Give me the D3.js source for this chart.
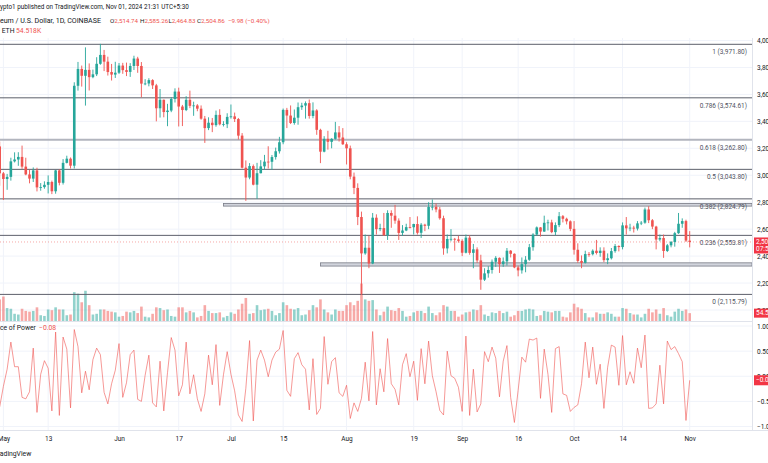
<!DOCTYPE html>
<html><head><meta charset="utf-8">
<script src="https://cdn.jsdelivr.net/npm/d3@7"></script>
<style>html,body{margin:0;padding:0;background:#fff;overflow:hidden}svg{display:block}</style>
</head><body>
<svg id="c" width="768" height="463"></svg>
<script>
// ---- data (daily ETH/USD candles, Apr 30 – Nov 01 2024) ----
const startDate = "2024-04-30";
const open = [3214,
 3014,2972,2988,3103,3117,3136,3064,3006,2975,3036, 2910,2912,2929,2950,2881,3036,2944,3092,3123,3071, 3664,3789,3738,3782,3728,3749,3827,3893,3843,3766,3747,
 3761,3814,3780,3767,3811,3866,3811,3680,3681,3706, 3667,3497,3560,3469,3480,3566,3621,3510,3484,3560, 3515,3518,3494,3420,3350,3390,3372,3448,3378,3379,
 3433,3437,3417,3294,3056,2983,3068,2930,3015,3066, 3101,3100,3135,3178,3245,3485,3443,3388,3427,3505, 3517,3535,3440,3481,3337,3175,3270,3248,3270,3318, 3280,
 3230,3200,2990,2906,2690,2420,2462,2345,2685,2600, 2608,2555,2720,2700,2663,2572,2590,2615,2614,2638, 2573,2633,2625,2765,2766,2746,2681,2457,2527,2528, 2524,
 2513,2425,2537,2424,2450,2368,2225,2272,2297,2358, 2387,2340,2361,2440,2417,2316,2294,2340,2373,2466, 2560,2613,2582,2647,2650,2578,2630,2696,2677,2658,
 2602,2447,2364,2350,2415,2414,2440,2423,2440,2370, 2384,2437,2475,2467,2628,2606,2611,2604,2643,2648, 2746,2666,2619,2523,2534,2438,2480,2505,2570,2640, 2660,
 2514.74];
const high = [3250,
 3024,3010,3130,3170,3171,3220,3130,3040,3058,3056, 2942,2955,2999,2960,3040,3043,3120,3145,3132,3690, 3841,3814,3949,3830,3784,3876,3975,3930,3880,3826,3842,
 3833,3834,3836,3832,3887,3879,3840,3713,3720,3713, 3678,3640,3562,3530,3580,3645,3650,3522,3587,3628, 3546,3528,3518,3440,3430,3425,3480,3490,3401,3460,
 3525,3465,3425,3313,3110,3090,3080,3092,3112,3151, 3215,3150,3205,3285,3495,3500,3518,3488,3540,3538, 3548,3562,3541,3490,3345,3290,3330,3275,3396,3365, 3350,
 3245,3220,3020,2940,2730,2560,2550,2720,2710,2640, 2720,2740,2740,2780,2680,2630,2640,2690,2640,2695, 2645,2640,2800,2820,2790,2765,2700,2560,2600,2535, 2550,
 2525,2560,2555,2490,2465,2410,2310,2325,2375,2400, 2390,2390,2460,2445,2420,2330,2390,2400,2490,2570, 2620,2615,2700,2670,2670,2650,2727,2705,2685,2665,
 2660,2495,2405,2440,2430,2450,2520,2465,2465,2420, 2460,2490,2480,2650,2690,2640,2625,2660,2660,2760, 2770,2675,2625,2560,2560,2490,2512,2580,2720,2680, 2670,
 2585.26];
const low = [2922,
 2817,2892,2960,3095,3070,3048,3000,2940,2950,2880, 2885,2900,2865,2860,2863,2925,2931,3088,3050,3050, 3628,3658,3517,3629,3720,3736,3820,3773,3740,3703,3722,
 3752,3753,3736,3730,3781,3760,3578,3668,3660,3640, 3400,3428,3430,3364,3468,3540,3362,3365,3476,3498, 3441,3475,3412,3240,3335,3320,3360,3370,3362,3350,
 3420,3395,3265,3050,2810,2970,2925,2825,3014,3041, 3050,3040,3116,3161,3230,3350,3380,3375,3375,3485, 3420,3420,3423,3300,3090,3170,3190,3200,3265,3250, 3225,
 3080,2970,2860,2630,2111,2410,2310,2340,2560,2585, 2550,2520,2610,2640,2520,2550,2585,2605,2560,2560, 2535,2585,2600,2740,2725,2670,2410,2420,2510,2440, 2500,
 2400,2420,2410,2310,2350,2150,2215,2240,2270,2320, 2275,2320,2330,2390,2310,2250,2270,2280,2365,2440, 2550,2545,2580,2590,2570,2555,2615,2650,2635,2585,
 2411,2350,2310,2345,2395,2405,2412,2395,2355,2340, 2375,2425,2435,2450,2560,2585,2575,2590,2630,2640, 2645,2600,2450,2510,2387,2430,2465,2470,2565,2610, 2505,
 2464.83];
const close = [3014,
 2972,2988,3103,3117,3136,3064,3006,2975,3036,2910, 2912,2929,2950,2881,3036,2944,3092,3123,3071,3664, 3789,3738,3782,3728,3749,3827,3893,3843,3766,3747,3761,
 3814,3780,3767,3811,3866,3811,3680,3681,3706,3667, 3497,3560,3469,3480,3566,3621,3510,3484,3560,3515, 3518,3494,3420,3350,3390,3372,3448,3378,3379,3433,
 3437,3417,3294,3056,2983,3068,2930,3015,3066,3101, 3100,3135,3178,3245,3485,3443,3388,3427,3505,3517, 3535,3440,3481,3337,3175,3270,3248,3270,3318,3280, 3230,
 3200,2990,2906,2690,2420,2462,2345,2685,2600,2608, 2555,2720,2700,2663,2572,2590,2615,2614,2638,2573, 2633,2625,2765,2766,2746,2681,2457,2527,2528,2524, 2513,
 2425,2537,2424,2450,2368,2225,2272,2297,2358,2387, 2340,2361,2440,2417,2316,2294,2340,2373,2466,2560, 2613,2582,2647,2650,2578,2630,2696,2677,2658,2602,
 2447,2364,2350,2415,2414,2440,2423,2440,2370,2384, 2437,2475,2467,2628,2606,2611,2604,2643,2648,2746, 2666,2619,2523,2534,2438,2480,2505,2570,2640,2660, 2515,
 2504.86];
// volume, thousands of ETH
const volume = [150,
 170,90,85,50,45,85,70,65,70,95, 40,35,80,75,95,80,80,40,45,200, 190,130,210,110,45,50,80,80,70,65, 60,
 30,35,65,60,70,55,100,30,25,50, 95,90,75,80,35,30,95,95,60,70, 60,25,35,110,70,55,55,60,25,35,
 60,50,80,120,160,50,55,110,75,80, 85,70,40,55,130,110,85,80,90,40, 45,75,110,95,150,80,60,45,80,70, 70,
 110,130,110,140,260,150,140,145,80,40, 65,100,75,70,90,70,30,35,60,70, 70,55,100,55,40,60,110,100,70,70, 30,
 45,60,65,80,75,110,45,35,60,55, 70,55,65,30,40,70,70,80,85,80, 35,40,70,65,60,70,70,30,25,60,
 120,95,85,55,25,25,60,50,50,60, 50,30,30,90,85,55,45,45,25,50, 85,60,80,50,90,40,30,65,85,70, 80,
 54.518];
// Balance of Power indicator values
const bop = [-0.61,
 -0.20,0.14,0.68,0.19,0.19,-0.42,-0.45,-0.31,0.56,-0.72, 0.04,0.31,0.16,-0.69,0.88,-0.78,0.78,0.54,-0.63,0.93, 0.59,-0.33,0.10,-0.27,0.33,0.56,0.43,-0.32,-0.55,-0.15,0.12,
 0.65,-0.42,-0.13,0.43,0.52,-0.46,-0.50,0.02,0.42,-0.53, -0.61,0.30,-0.69,0.07,0.77,0.52,-0.39,-0.17,0.68,-0.35, 0.03,-0.45,-0.70,-0.35,0.42,-0.17,0.63,-0.58,0.03,0.49,
 0.04,-0.29,-0.77,-0.90,-0.24,0.71,-0.89,0.32,0.52,0.32, -0.01,0.32,0.48,0.54,0.91,-0.28,-0.40,0.35,0.47,0.23, 0.14,-0.67,0.35,-0.76,-0.64,0.79,-0.16,0.29,0.37,-0.33, -0.40,
 -0.18,-0.84,-0.53,-0.70,-0.44,0.28,-0.49,0.89,-0.57,0.15, -0.31,0.75,-0.15,-0.26,-0.57,0.23,0.45,-0.01,0.30,-0.48, 0.55,-0.15,0.70,0.01,-0.31,-0.68,-0.77,0.50,0.01,-0.04, -0.22,
 -0.70,0.80,-0.78,0.14,-0.71,-0.55,0.49,0.29,0.58,0.36, -0.41,0.30,0.61,-0.42,-0.92,-0.28,0.38,0.28,0.74,0.72, 0.76,-0.44,0.54,0.04,-0.72,0.55,0.59,-0.35,-0.38,-0.70,
 -0.62,-0.57,-0.15,0.68,-0.03,0.58,-0.16,0.24,-0.64,0.18, 0.62,0.58,-0.18,0.81,-0.17,0.09,-0.14,0.56,0.17,0.82, -0.64,-0.63,-0.55,0.22,-0.55,0.70,0.53,0.59,0.45,0.29, -0.88,
 -0.08];

const fibLevels = [1, 0.786, 0.618, 0.5, 0.382, 0.236, 0];
const fibPrices = [3971.80, 3574.61, 3262.80, 3043.80, 2824.79, 2553.81, 2115.79];
const zoneStarts = ["2024-06-29", "2024-07-25"];
const zoneLows = [2771, 2326];
const zoneHighs = [2791, 2350];
const priceTicks = [2000, 2200, 2400, 2600, 2800, 3000, 3200, 3400, 3600, 3800, 4000];
const bopTicks = [1, 0.5, 0, -0.5, -1];
const dateTicks = ["2024-05-01","2024-05-13","2024-06-01","2024-06-17","2024-07-01","2024-07-15","2024-08-01","2024-08-19","2024-09-01","2024-09-16","2024-10-01","2024-10-14","2024-11-01"];
const dateTickLabels = ["May","13","Jun","17","Jul","15","Aug","19","Sep","16","Oct","14","Nov"];

// ---- drawing ----
const UP = "#26a69a", DOWN = "#ef5350", TXT = "#131722";
const FONT = "Roboto, 'Liberation Sans', Arial, sans-serif";
const pd = s => new Date(s + "T00:00:00Z");
const dates = d3.range(open.length).map(i => d3.utcDay.offset(pd(startDate), i));
const data = dates.map((d, i) => ({d, o: open[i], h: high[i], l: low[i], c: close[i], v: volume[i], b: bop[i]}));

const svg = d3.select("#c").attr("font-family", FONT);
const plotR = 752, mainTop = 38, mainBot = 321, bopBot = 430;
const x = d3.scaleUtc().domain([pd("2024-05-01"), pd("2024-11-01")]).range([3.4, 689.7]);
const y = d3.scaleLinear().domain([2000, 4000]).range([310, 40.5]);
const yv = d3.scaleLinear().domain([0, 250]).range([mainBot, mainBot - 36]);
const yb = d3.scaleLinear().domain([-1, 1]).range([426.5, 326]);

const defs = svg.append("defs");
defs.append("clipPath").attr("id", "cm").append("rect").attr("x", 0).attr("y", mainTop).attr("width", plotR).attr("height", mainBot - mainTop);
defs.append("clipPath").attr("id", "cb").append("rect").attr("x", 0).attr("y", mainBot + 1).attr("width", plotR).attr("height", bopBot - mainBot - 1);

// grid
const grid = svg.append("g").attr("stroke", "#f0f3fa").attr("stroke-width", 1);
grid.selectAll("line.v").data(dateTicks).join("line")
  .attr("x1", d => x(pd(d))).attr("x2", d => x(pd(d))).attr("y1", mainTop).attr("y2", bopBot);
grid.selectAll("line.h").data(priceTicks).join("line")
  .attr("x1", 0).attr("x2", plotR).attr("y1", d => y(d)).attr("y2", d => y(d));
grid.selectAll("line.b").data(bopTicks).join("line")
  .attr("x1", 0).attr("x2", plotR).attr("y1", d => yb(d)).attr("y2", d => yb(d));

// pane borders
svg.append("line").attr("x1", 0).attr("x2", plotR).attr("y1", mainBot + 0.5).attr("y2", mainBot + 0.5).attr("stroke", "#e0e3eb");
svg.append("line").attr("x1", 0).attr("x2", 768).attr("y1", bopBot + 0.5).attr("y2", bopBot + 0.5).attr("stroke", "#e0e3eb");
svg.append("line").attr("x1", plotR + 0.5).attr("x2", plotR + 0.5).attr("y1", mainTop).attr("y2", bopBot).attr("stroke", "#e0e3eb");

const main = svg.append("g").attr("clip-path", "url(#cm)");

// volume
main.append("g").selectAll("rect").data(data).join("rect")
  .attr("x", d => x(d.d) - 1.3).attr("width", 2.6)
  .attr("y", d => yv(d.v)).attr("height", d => mainBot - yv(d.v))
  .attr("fill", d => d.c >= d.o ? UP : DOWN).attr("fill-opacity", 0.5);

// fib lines
const fibG = main.append("g");
fibLevels.forEach((lv, i) => {
  const thick = (lv === 0.618);
  fibG.append("line").attr("x1", 0).attr("x2", plotR)
    .attr("y1", y(fibPrices[i])).attr("y2", y(fibPrices[i]))
    .attr("stroke", thick ? "#b2b5be" : "#5d606b").attr("stroke-width", thick ? 2 : 1);
});

// zones
main.append("g").selectAll("rect").data(zoneStarts).join("rect")
  .attr("x", d => x(pd(d))).attr("width", d => plotR - x(pd(d)))
  .attr("y", (d, i) => y(zoneHighs[i])).attr("height", (d, i) => y(zoneLows[i]) - y(zoneHighs[i]))
  .attr("fill", "#d1d4dc").attr("stroke", "#787b86").attr("stroke-width", 0.8);

// last price line
main.append("line").attr("x1", 0).attr("x2", plotR)
  .attr("y1", y(close[close.length - 1])).attr("y2", y(close[close.length - 1]))
  .attr("stroke", DOWN).attr("stroke-opacity", 0.5).attr("stroke-dasharray", "1,2");

// candles
const cg = main.append("g");
cg.selectAll("line").data(data).join("line")
  .attr("x1", d => x(d.d)).attr("x2", d => x(d.d))
  .attr("y1", d => y(d.h)).attr("y2", d => y(d.l))
  .attr("stroke", d => d.c >= d.o ? UP : DOWN).attr("stroke-width", 0.9);
cg.selectAll("rect").data(data).join("rect")
  .attr("x", d => x(d.d) - 1.3).attr("width", 2.6)
  .attr("y", d => y(Math.max(d.o, d.c)))
  .attr("height", d => Math.max(0.8, Math.abs(y(d.o) - y(d.c))))
  .attr("fill", d => d.c >= d.o ? UP : DOWN);

// fib labels
svg.append("g").selectAll("text").data(fibLevels).join("text")
  .attr("x", 747).attr("y", (d, i) => y(fibPrices[i]) + 8).attr("text-anchor", "end")
  .attr("dominant-baseline", "middle").attr("font-size", 6.5).attr("fill", "#50535e")
  .text((d, i) => `${d} (${d3.format(",.2f")(fibPrices[i])})`);

// BOP line
svg.append("g").attr("clip-path", "url(#cb)").append("path").datum(data)
  .attr("d", d3.line().x(d => x(d.d)).y(d => yb(d.b)))
  .attr("fill", "none").attr("stroke", DOWN).attr("stroke-opacity", 0.85).attr("stroke-width", 0.7);

// price axis
const pa = svg.append("g").attr("transform", `translate(${plotR},0)`)
  .call(d3.axisRight(y).tickValues(priceTicks).tickSize(0).tickPadding(5).tickFormat(d3.format(",")));
pa.select(".domain").remove();
pa.selectAll("text").attr("font-size", 6.5).attr("fill", TXT).attr("font-family", FONT);

const ba = svg.append("g").attr("transform", `translate(${plotR},0)`)
  .call(d3.axisRight(yb).tickValues(bopTicks).tickSize(0).tickPadding(5).tickFormat(d3.format(".2f")));
ba.select(".domain").remove();
ba.selectAll("text").attr("font-size", 6.5).attr("fill", TXT).attr("font-family", FONT);

// time axis
const ta = svg.append("g").attr("transform", `translate(0,${bopBot})`)
  .call(d3.axisBottom(x).tickValues(dateTicks.map(pd)).tickSize(0).tickPadding(6)
    .tickFormat((d, i) => dateTickLabels[i]));
ta.select(".domain").remove();
ta.selectAll("text").attr("font-size", 6.5).attr("fill", TXT).attr("font-family", FONT);

// right-axis value labels
function tag(cy, h, lines, fill) {
  const g = svg.append("g");
  g.append("rect").attr("x", plotR + 2).attr("y", cy - h / 2).attr("width", 30).attr("height", h).attr("fill", fill);
  lines.forEach((t, i) => g.append("text").attr("x", plotR + 4).attr("y", t[1])
    .attr("dominant-baseline", "middle").attr("font-size", 6.5).attr("fill", "#fff").text(t[0]));
}
const lastC = close[close.length - 1];
tag(y(lastC) + 3.5, 16, [["2,504.86", y(lastC)], ["07:59:34", y(lastC) + 7.5]], "#f23645");
tag(yv(volume[volume.length - 1]), 9, [["54.518K", yv(volume[volume.length - 1])]], "#f23645");
tag(yb(bop[bop.length - 1]), 10, [["−0.08", yb(bop[bop.length - 1])]], "#f23645");

// legends / header
function cutText(prefix, full, yy, size, fill) {
  const t = svg.append("text").attr("y", yy).attr("font-size", size).attr("fill", fill)
    .attr("dominant-baseline", "middle").text(prefix);
  const w = t.node().getComputedTextLength();
  t.text(full).attr("x", -w);
  return t;
}
svg.append("text").attr("x", 0).attr("y", 7.5).attr("font-size", 6.3).attr("fill", TXT)
  .attr("dominant-baseline", "middle").text("ypto1 published on TradingView.com, Nov 01, 2024 21:31 UTC+5:30");
cutText("Ether", "Ethereum / U.S. Dollar, 1D, COINBASE", 21, 7.1, TXT);
const ohlc = [["O", "2,514.74", 110], ["H", "2,585.26", 140], ["L", "2,464.83", 168.5], ["C", "2,504.86", 197]];
ohlc.forEach(k => {
  const t = svg.append("text").attr("x", k[2]).attr("y", 21).attr("font-size", 6.2).attr("dominant-baseline", "middle");
  t.append("tspan").attr("fill", TXT).text(k[0]);
  t.append("tspan").attr("fill", DOWN).text(k[1]);
});
svg.append("text").attr("x", 228).attr("y", 21).attr("font-size", 6.2).attr("fill", DOWN)
  .attr("dominant-baseline", "middle").text("−9.98 (−0.40%)");
cutText("Vol · ", "Vol · ETH", 31, 6.8, TXT);
svg.append("text").attr("x", 16).attr("y", 31).attr("font-size", 6.8).attr("fill", DOWN)
  .attr("dominant-baseline", "middle").text("54.518K");
cutText("Balan", "Balance of Power", 328, 6.8, TXT);
svg.append("text").attr("x", 39).attr("y", 328).attr("font-size", 6.8).attr("fill", DOWN)
  .attr("dominant-baseline", "middle").text("−0.08");
cutText("Tr", "TradingView", 454, 6.8, TXT);
</script>
</body></html>
